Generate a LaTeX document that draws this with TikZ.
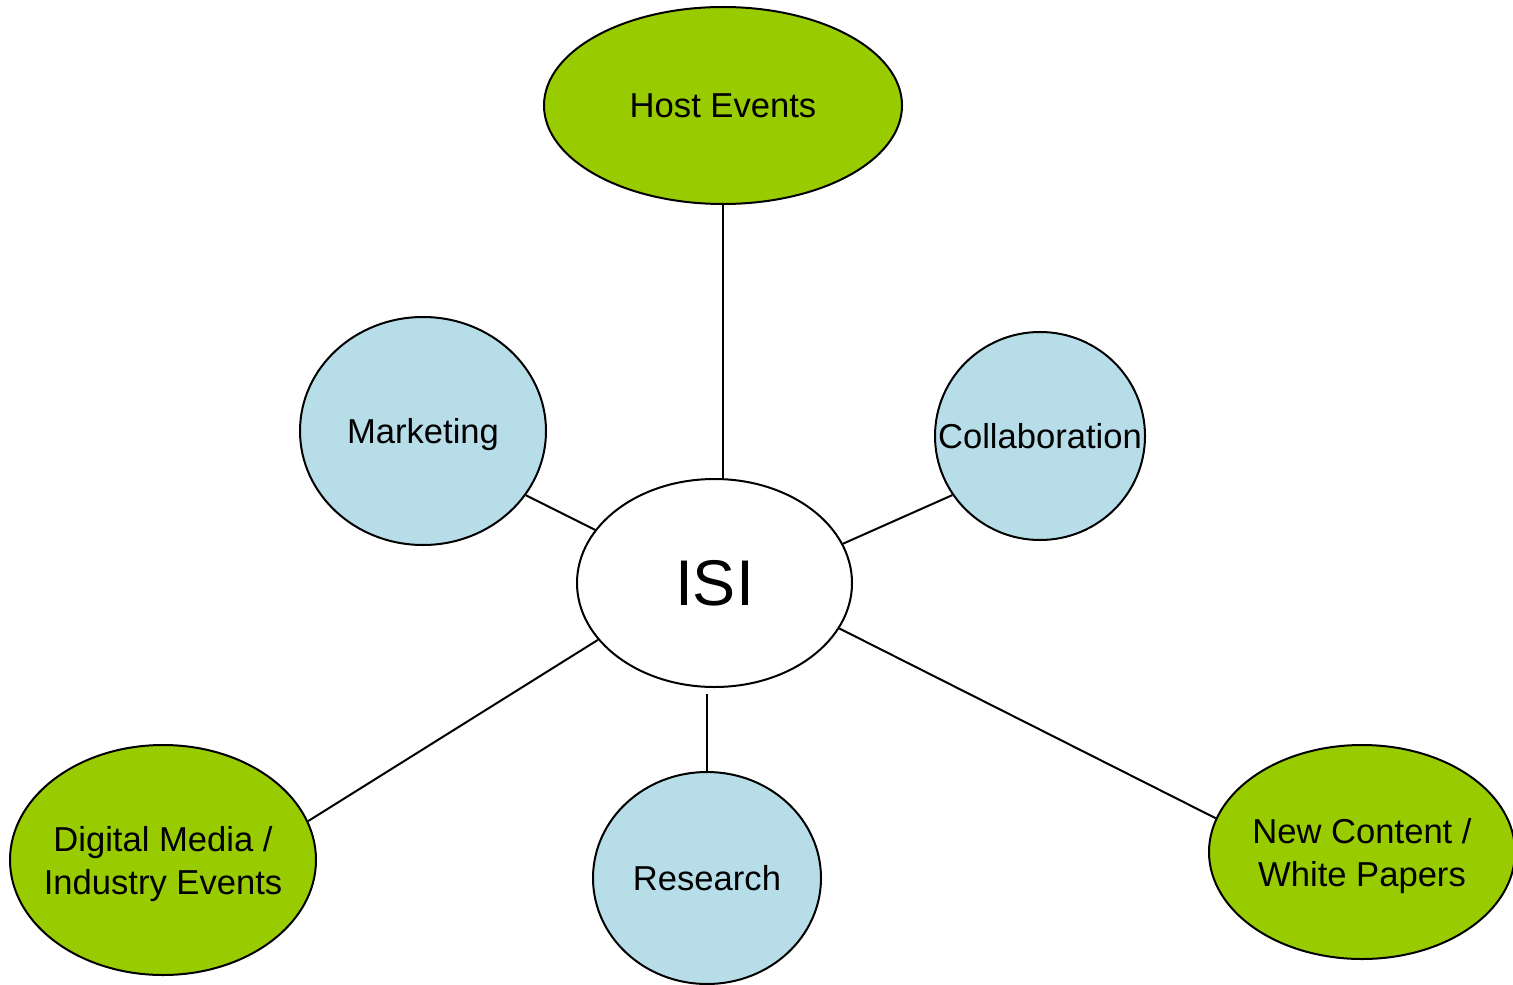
\documentclass[tikz,border=0pt]{standalone}
\usepackage{fontspec}
\setmainfont{Liberation Sans}
\usetikzlibrary{shapes.geometric}
\definecolor{leaf}{HTML}{99CC00}
\definecolor{sky}{HTML}{B7DEE8}
\tikzstyle{blob} = [ellipse, draw, line width=1pt, inner sep=0pt]
\tikzstyle{greenblob} = [blob, fill=leaf]
\tikzstyle{blueblob} = [blob, fill=sky]

\begin{document}
\begin{tikzpicture}[x=0.5pt,y=-0.5pt,line width=1pt,font=\fontsize{17.3}{21.5}\selectfont,
                    every label/.style={text depth=0pt}]
  \useasboundingbox (0,0) rectangle (1513,984);
  \node[blob, fill=white, minimum width=137.5pt, minimum height=104pt,
        label={[font=\fontsize{32.3}{38}\selectfont]center:ISI}] (ISI) at (714.5,583) {};
  \node[greenblob, minimum width=179pt, minimum height=98.5pt, label={center:Host Events}] (Host) at (723,105.5) {};
  \node[blueblob, minimum width=123pt, minimum height=114pt, label={center:Marketing}] (Mkt) at (423,431) {};
  \node[blueblob, minimum width=105pt, minimum height=104pt, label={center:Collaboration}] (Collab) at (1040,436) {};
  \node[greenblob, minimum width=153pt, minimum height=115pt,
        label={[align=center]center:Digital Media /\\Industry Events}] (Digi) at (163,860) {};
  \node[blueblob, minimum width=114pt, minimum height=106pt, label={center:Research}] (Res) at (707,878) {};
  \node[greenblob, minimum width=153pt, minimum height=107pt,
        label={[align=center]center:New Content /\\White Papers}] (New) at (1362,852) {};

  \path (Host.south) edge (Host.south |- ISI.north);
  \path (Mkt.-32) edge (ISI.156);
  \path (Collab.214.6) edge (ISI.17.2);
  \path (Digi.15.3) edge (ISI.206.5);
  \path (Res.north) edge[shorten >=3pt] (Res.north |- ISI.south);
  \path (New.167.3) edge (ISI.-20);
\end{tikzpicture}
\end{document}
